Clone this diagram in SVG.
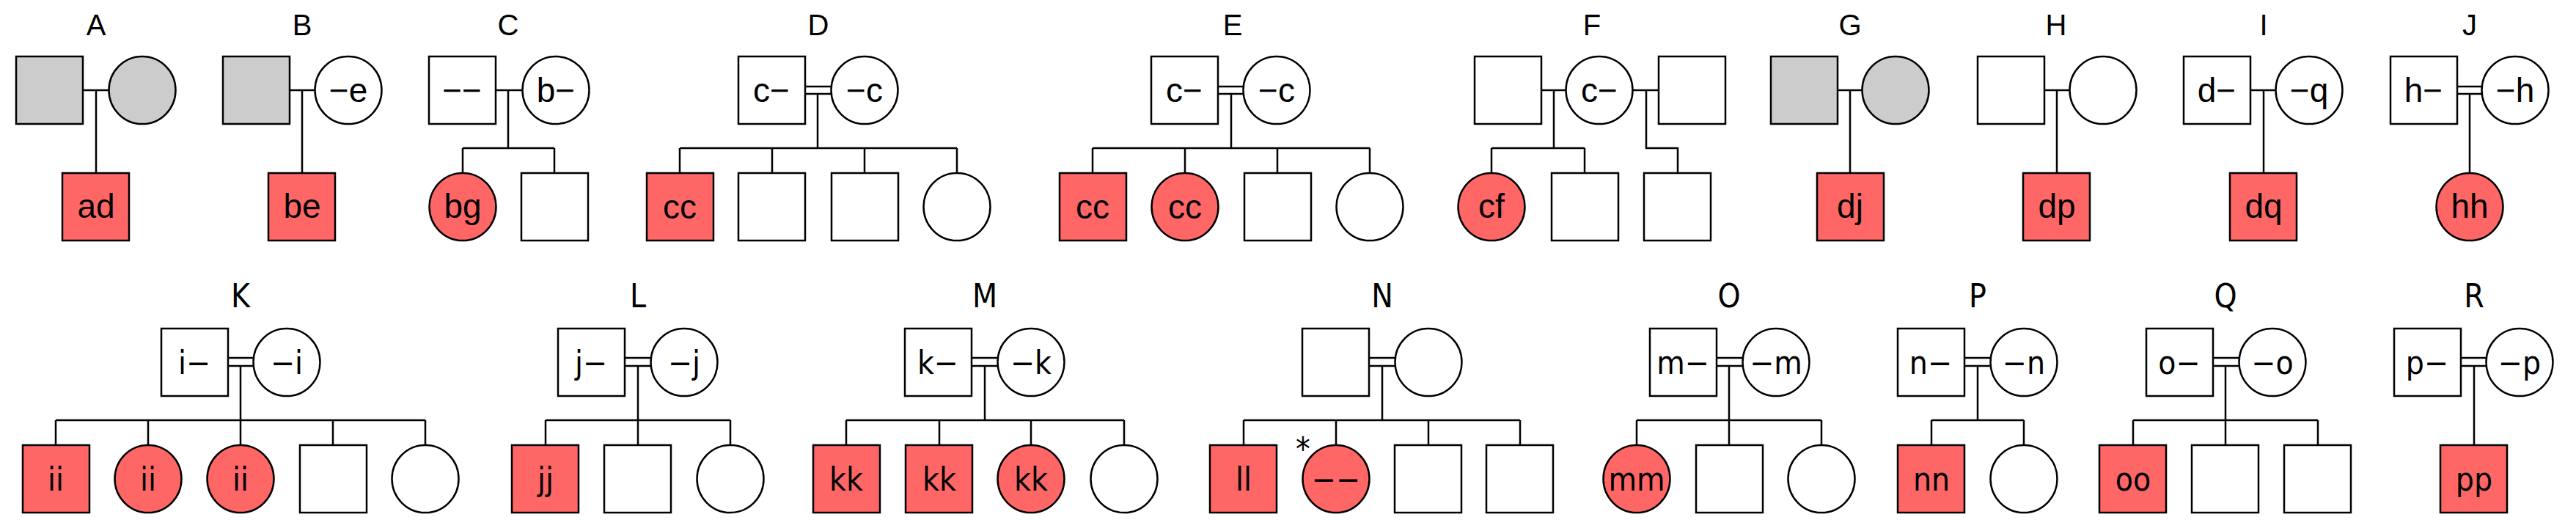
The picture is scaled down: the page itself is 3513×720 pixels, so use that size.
<svg xmlns="http://www.w3.org/2000/svg" width="3513" height="720" viewBox="0 0 3513 720">
<style>
.s{stroke:#000;stroke-width:2.5;fill:#fff}
.a{fill:#FF6666}
.g{fill:#CCCCCC}
.c{stroke:#000;stroke-width:2.5;fill:none}
text{text-anchor:middle;fill:#000}
.t1{font-family:"Liberation Sans",Arial,sans-serif;font-size:46px}
.l1{font-family:"Liberation Sans",Arial,sans-serif;font-size:40px}
.t2{font-family:"DejaVu Sans Condensed","DejaVu Sans",sans-serif;font-size:44px}
.l2{font-family:"DejaVu Sans Condensed","DejaVu Sans",sans-serif;font-size:44px}
</style>
<rect width="3513" height="720" fill="#fff"/>
<g id="connectors" class="c">
<path d="M113,123H148M131,123V236"/>
<path d="M395,123H429M412,123V236"/>
<path d="M676,123H712M693,123V202M631,202H756M631,202V236M756,202V236"/>
<path d="M1098,118H1134M1098,128H1134M1115,128V202M927,202H1305M927,202V236M1053,202V236M1179,202V236M1305,202V236"/>
<path d="M1661,118H1695M1661,128H1695M1679,128V202M1490,202H1868M1490,202V236M1616,202V236M1742,202V236M1868,202V236"/>
<path d="M2102,123H2136M2119,123V202M2034,202H2161M2034,202V236M2161,202V236M2227,123H2262M2245,123V202H2288V236"/>
<path d="M2506,123H2540M2523,123V236"/>
<path d="M2788,123H2822M2805,123V236"/>
<path d="M3069,123H3104M3087,123V236"/>
<path d="M3351,118H3385M3351,128H3385M3368,128V236"/>
<path d="M311,488H345M311,499H345M328,499V573M76,573H580M76,573V607M202,573V607M328,573V607M454,573V607M580,573V607"/>
<path d="M852,488H887M852,499H887M870,499V573M744,573H996M744,573V607M870,573V607M996,573V607"/>
<path d="M1325,488H1360M1325,499H1360M1343,499V573M1154,573H1533M1154,573V607M1281,573V607M1406,573V607M1533,573V607"/>
<path d="M1867,488H1902M1867,499H1902M1885,499V573M1696,573H2073M1696,573V607M1822,573V607M1948,573V607M2073,573V607"/>
<path d="M2341,488H2376M2341,499H2376M2358,499V573M2232,573H2484M2232,573V607M2358,573V607M2484,573V607"/>
<path d="M2679,488H2714M2679,499H2714M2697,499V573M2634,573H2760M2634,573V607M2760,573V607"/>
<path d="M3018,488H3053M3018,499H3053M3035,499V573M2909,573H3161M2909,573V607M3035,573V607M3161,573V607"/>
<path d="M3356,488H3390M3356,499H3390M3374,499V607"/>
</g>
<g id="labels">
<text class="l1" x="131" y="48">A</text>
<text class="l1" x="412" y="48">B</text>
<text class="l1" x="693" y="48">C</text>
<text class="l1" x="1116" y="48">D</text>
<text class="l1" x="1681" y="48">E</text>
<text class="l1" x="2171" y="48">F</text>
<text class="l1" x="2523" y="48">G</text>
<text class="l1" x="2804" y="48">H</text>
<text class="l1" x="3087" y="48">I</text>
<text class="l1" x="3368" y="48">J</text>
<text class="l2" x="328" y="419">K</text>
<text class="l2" x="870" y="419">L</text>
<text class="l2" x="1343" y="419">M</text>
<text class="l2" x="1885" y="419">N</text>
<text class="l2" x="2358" y="419">O</text>
<text class="l2" x="2697" y="419">P</text>
<text class="l2" x="3035" y="419">Q</text>
<text class="l2" x="3374" y="419">R</text>
</g>
<g id="A1"><rect class="s g" x="22" y="77" width="91" height="92"/></g>
<g id="A2"><ellipse class="s g" cx="194" cy="123" rx="45.5" ry="46"/></g>
<g id="A3"><rect class="s a" x="85" y="236" width="91" height="92"/><text class="t1" x="131" y="297">ad</text></g>
<g id="B1"><rect class="s g" x="304" y="77" width="91" height="92"/></g>
<g id="B2"><ellipse class="s" cx="475" cy="123" rx="45.5" ry="46"/><text class="t1" x="475" y="139">−e</text></g>
<g id="B3"><rect class="s a" x="366" y="236" width="91" height="92"/><text class="t1" x="412" y="297">be</text></g>
<g id="C1"><rect class="s" x="585" y="77" width="91" height="92"/><text class="t1" x="630" y="139">−−</text></g>
<g id="C2"><ellipse class="s" cx="758" cy="123" rx="45.5" ry="46"/><text class="t1" x="758" y="139">b−</text></g>
<g id="C3"><ellipse class="s a" cx="631" cy="282" rx="45.5" ry="46"/><text class="t1" x="631" y="297">bg</text></g>
<g id="C4"><rect class="s" x="711" y="236" width="91" height="92"/></g>
<g id="D1"><rect class="s" x="1007" y="77" width="91" height="92"/><text class="t1" x="1052" y="139">c−</text></g>
<g id="D2"><ellipse class="s" cx="1179" cy="123" rx="45.5" ry="46"/><text class="t1" x="1179" y="139">−c</text></g>
<g id="D3"><rect class="s a" x="882" y="236" width="91" height="92"/><text class="t1" x="927" y="298">cc</text></g>
<g id="D4"><rect class="s" x="1007" y="236" width="91" height="92"/></g>
<g id="D5"><rect class="s" x="1134" y="236" width="91" height="92"/></g>
<g id="D6"><ellipse class="s" cx="1305" cy="282" rx="45.5" ry="46"/></g>
<g id="E1"><rect class="s" x="1570" y="77" width="91" height="92"/><text class="t1" x="1615" y="139">c−</text></g>
<g id="E2"><ellipse class="s" cx="1741" cy="123" rx="45.5" ry="46"/><text class="t1" x="1741" y="139">−c</text></g>
<g id="E3"><rect class="s a" x="1445" y="236" width="91" height="92"/><text class="t1" x="1490" y="298">cc</text></g>
<g id="E4"><ellipse class="s a" cx="1616" cy="282" rx="45.5" ry="46"/><text class="t1" x="1616" y="298">cc</text></g>
<g id="E5"><rect class="s" x="1697" y="236" width="91" height="92"/></g>
<g id="E6"><ellipse class="s" cx="1868" cy="282" rx="45.5" ry="46"/></g>
<g id="F1"><rect class="s" x="2011" y="77" width="91" height="92"/></g>
<g id="F2"><ellipse class="s" cx="2181" cy="123" rx="45.5" ry="46"/><text class="t1" x="2181" y="139">c−</text></g>
<g id="F3"><rect class="s" x="2262" y="77" width="91" height="92"/></g>
<g id="F4"><ellipse class="s a" cx="2034" cy="282" rx="45.5" ry="46"/><text class="t1" x="2034" y="297">cf</text></g>
<g id="F5"><rect class="s" x="2116" y="236" width="91" height="92"/></g>
<g id="F6"><rect class="s" x="2242" y="236" width="91" height="92"/></g>
<g id="G1"><rect class="s g" x="2415" y="77" width="91" height="92"/></g>
<g id="G2"><ellipse class="s g" cx="2585" cy="123" rx="45.5" ry="46"/></g>
<g id="G3"><rect class="s a" x="2478" y="236" width="91" height="92"/><text class="t1" x="2523" y="297">dj</text></g>
<g id="H1"><rect class="s" x="2697" y="77" width="91" height="92"/></g>
<g id="H2"><ellipse class="s" cx="2868" cy="123" rx="45.5" ry="46"/></g>
<g id="H3"><rect class="s a" x="2759" y="236" width="91" height="92"/><text class="t1" x="2805" y="297">dp</text></g>
<g id="I1"><rect class="s" x="2978" y="77" width="91" height="92"/><text class="t1" x="3023" y="139">d−</text></g>
<g id="I2"><ellipse class="s" cx="3149" cy="123" rx="45.5" ry="46"/><text class="t1" x="3149" y="139">−q</text></g>
<g id="I3"><rect class="s a" x="3041" y="236" width="91" height="92"/><text class="t1" x="3087" y="297">dq</text></g>
<g id="J1"><rect class="s" x="3260" y="77" width="91" height="92"/><text class="t1" x="3305" y="139">h−</text></g>
<g id="J2"><ellipse class="s" cx="3430" cy="123" rx="45.5" ry="46"/><text class="t1" x="3430" y="139">−h</text></g>
<g id="J3"><ellipse class="s a" cx="3368" cy="282" rx="45.5" ry="46"/><text class="t1" x="3368" y="297">hh</text></g>
<g id="K1"><rect class="s" x="220" y="448" width="91" height="92"/><text class="t2" x="265" y="510">i−</text></g>
<g id="K2"><ellipse class="s" cx="391" cy="494" rx="45.5" ry="46"/><text class="t2" x="391" y="510">−i</text></g>
<g id="K3"><rect class="s a" x="31" y="607" width="91" height="92"/><text class="t2" x="76" y="669">ii</text></g>
<g id="K4"><ellipse class="s a" cx="202" cy="653" rx="45.5" ry="46"/><text class="t2" x="202" y="669">ii</text></g>
<g id="K5"><ellipse class="s a" cx="328" cy="653" rx="45.5" ry="46"/><text class="t2" x="328" y="669">ii</text></g>
<g id="K6"><rect class="s" x="409" y="607" width="91" height="92"/></g>
<g id="K7"><ellipse class="s" cx="580" cy="653" rx="45.5" ry="46"/></g>
<g id="L1"><rect class="s" x="761" y="448" width="91" height="92"/><text class="t2" x="806" y="510">j−</text></g>
<g id="L2"><ellipse class="s" cx="933" cy="494" rx="45.5" ry="46"/><text class="t2" x="933" y="510">−j</text></g>
<g id="L3"><rect class="s a" x="698" y="607" width="91" height="92"/><text class="t2" x="744" y="669">jj</text></g>
<g id="L4"><rect class="s" x="824" y="607" width="91" height="92"/></g>
<g id="L5"><ellipse class="s" cx="996" cy="653" rx="45.5" ry="46"/></g>
<g id="M1"><rect class="s" x="1234" y="448" width="91" height="92"/><text class="t2" x="1279" y="510">k−</text></g>
<g id="M2"><ellipse class="s" cx="1406" cy="494" rx="45.5" ry="46"/><text class="t2" x="1406" y="510">−k</text></g>
<g id="M3"><rect class="s a" x="1109" y="607" width="91" height="92"/><text class="t2" x="1154" y="669">kk</text></g>
<g id="M4"><rect class="s a" x="1235" y="607" width="91" height="92"/><text class="t2" x="1281" y="669">kk</text></g>
<g id="M5"><ellipse class="s a" cx="1406" cy="653" rx="45.5" ry="46"/><text class="t2" x="1406" y="669">kk</text></g>
<g id="M6"><ellipse class="s" cx="1533" cy="653" rx="45.5" ry="46"/></g>
<g id="N1"><rect class="s" x="1776" y="448" width="91" height="92"/></g>
<g id="N2"><ellipse class="s" cx="1948" cy="494" rx="45.5" ry="46"/></g>
<g id="N3"><rect class="s a" x="1650" y="607" width="91" height="92"/><text class="t2" x="1696" y="669">ll</text></g>
<g id="N4"><ellipse class="s a" cx="1822" cy="653" rx="45.5" ry="46"/><text class="t2" x="1822" y="669">−−</text><text class="t2" x="1777" y="628">*</text></g>
<g id="N5"><rect class="s" x="1902" y="607" width="91" height="92"/></g>
<g id="N6"><rect class="s" x="2027" y="607" width="91" height="92"/></g>
<g id="O1"><rect class="s" x="2250" y="448" width="91" height="92"/><text class="t2" x="2295" y="510">m−</text></g>
<g id="O2"><ellipse class="s" cx="2422" cy="494" rx="45.5" ry="46"/><text class="t2" x="2422" y="510">−m</text></g>
<g id="O3"><ellipse class="s a" cx="2232" cy="653" rx="45.5" ry="46"/><text class="t2" x="2232" y="669">mm</text></g>
<g id="O4"><rect class="s" x="2313" y="607" width="91" height="92"/></g>
<g id="O5"><ellipse class="s" cx="2484" cy="653" rx="45.5" ry="46"/></g>
<g id="P1"><rect class="s" x="2588" y="448" width="91" height="92"/><text class="t2" x="2633" y="510">n−</text></g>
<g id="P2"><ellipse class="s" cx="2760" cy="494" rx="45.5" ry="46"/><text class="t2" x="2760" y="510">−n</text></g>
<g id="P3"><rect class="s a" x="2588" y="607" width="91" height="92"/><text class="t2" x="2634" y="669">nn</text></g>
<g id="P4"><ellipse class="s" cx="2760" cy="653" rx="45.5" ry="46"/></g>
<g id="Q1"><rect class="s" x="2927" y="448" width="91" height="92"/><text class="t2" x="2972" y="510">o−</text></g>
<g id="Q2"><ellipse class="s" cx="3099" cy="494" rx="45.5" ry="46"/><text class="t2" x="3099" y="510">−o</text></g>
<g id="Q3"><rect class="s a" x="2863" y="607" width="91" height="92"/><text class="t2" x="2909" y="669">oo</text></g>
<g id="Q4"><rect class="s" x="2989" y="607" width="91" height="92"/></g>
<g id="Q5"><rect class="s" x="3115" y="607" width="91" height="92"/></g>
<g id="R1"><rect class="s" x="3265" y="448" width="91" height="92"/><text class="t2" x="3310" y="510">p−</text></g>
<g id="R2"><ellipse class="s" cx="3436" cy="494" rx="45.5" ry="46"/><text class="t2" x="3436" y="510">−p</text></g>
<g id="R3"><rect class="s a" x="3328" y="607" width="91" height="92"/><text class="t2" x="3374" y="669">pp</text></g>
</svg>
